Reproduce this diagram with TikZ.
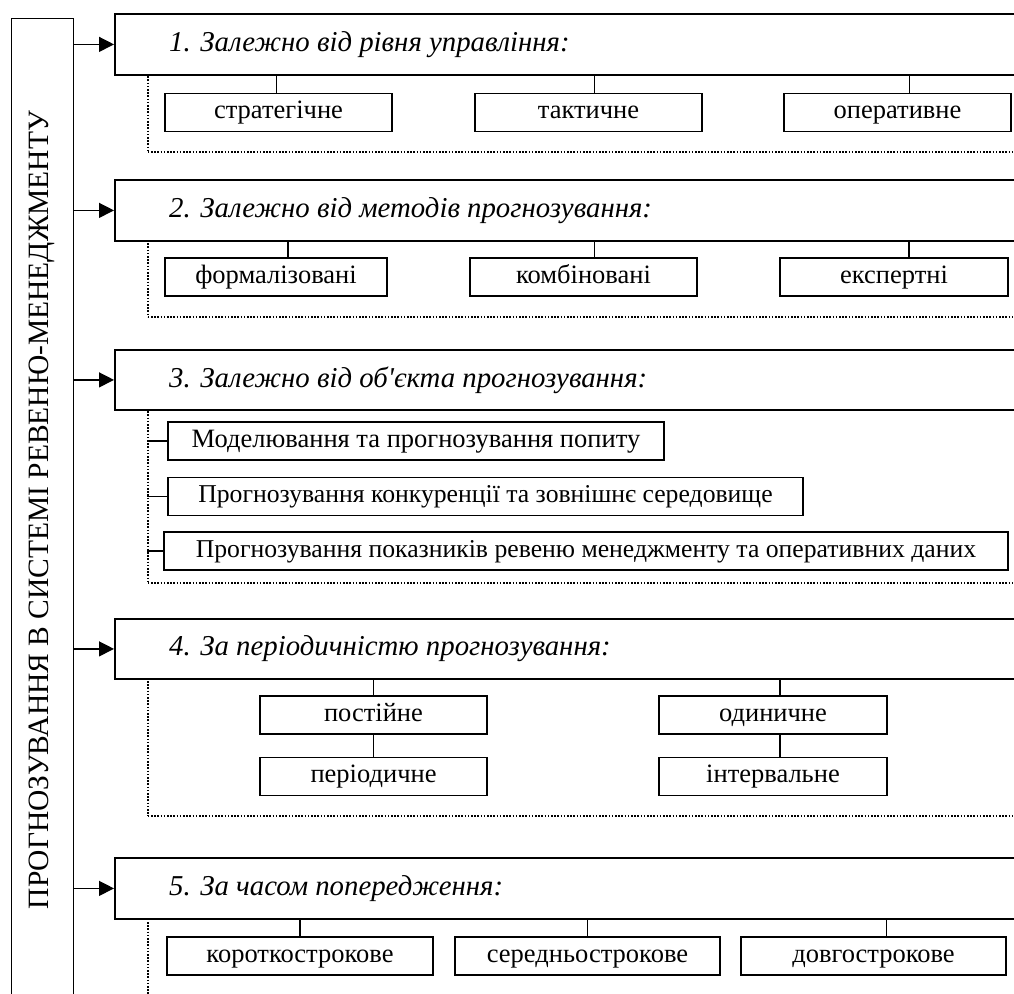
\documentclass[tikz,border=0pt]{standalone}
\usepackage{fontspec}
\setmainfont{Liberation Serif}[Ligatures=TeXOff]
\usetikzlibrary{arrows.meta,calc}
\begin{document}
\begin{tikzpicture}[x=1pt,y=-1pt,
  hdr/.style={draw, line width=1.8pt, rectangle, anchor=north west, minimum width=960pt, inner sep=0pt, fill=white},
  htxt/.style={anchor=west, inner sep=0pt, font=\fontsize{28.8}{33}\selectfont\itshape},
  dotbox/.style={draw, line width=1.6pt, dash pattern=on 1.6pt off 1.6pt, rectangle, anchor=north west, minimum width=940pt, inner sep=0pt},
  child/.style={draw, line width=1.3pt, rectangle, minimum height=38pt, inner sep=0pt, text height=18pt, text depth=6pt, font=\fontsize{26.5}{30}\selectfont},
  smallchild/.style={child, font=\fontsize{25.7}{30}\selectfont},
  conn/.style={line width=1.3pt},
  arr/.style={line width=1.3pt, -{Triangle[length=15pt,width=15pt]}}
]
\useasboundingbox (0,0) rectangle (1014,993);
\clip (0,0) rectangle (1014,993);

% left main box
\node[draw, line width=1.3pt, rectangle, anchor=north west, minimum width=62pt, minimum height=1000pt, inner sep=0pt] (main) at (11,18) {};
\node[rotate=90, inner sep=0pt, font=\fontsize{29.5}{33}\selectfont] (maintxt) at (42,510) {ПРОГНОЗУВАННЯ В СИСТЕМІ РЕВЕНЮ-МЕНЕДЖМЕНТУ};

% dotted containers
\node[dotbox, minimum height=77pt] (d1) at (147,74) {};
\node[dotbox, minimum height=76pt] (d2) at (147,240) {};
\node[dotbox, minimum height=173pt] (d3) at (147,409) {};
\node[dotbox, minimum height=137pt] (d4) at (147,678) {};
\node[dotbox, minimum height=120pt] (d5) at (147,918) {};

% headers
\node[hdr, minimum height=61pt] (h1) at (114,13) {};
\node[hdr, minimum height=61pt] (h2) at (114,179) {};
\node[hdr, minimum height=60pt] (h3) at (114,349) {};
\node[hdr, minimum height=60pt] (h4) at (114,618) {};
\node[hdr, minimum height=61pt] (h5) at (114,857) {};

\node[htxt] (t1) at ([xshift=55pt]h1.west) {1. Залежно від рівня управління:};
\node[htxt] (t2) at ([xshift=55pt]h2.west) {2. Залежно від методів прогнозування:};
\node[htxt] (t3) at ([xshift=55pt]h3.west) {3. Залежно від об'єкта прогнозування:};
\node[htxt] (t4) at ([xshift=55pt]h4.west) {4. За періодичністю прогнозування:};
\node[htxt] (t5) at ([xshift=55pt]h5.west) {5. За часом попередження:};

% arrows
\foreach \h in {h1,h2,h3,h4,h5}{
  \draw[arr] (main.east |- \h.west) -- (\h.west);
}

% section 1
\node[child, minimum width=227pt] (c11) at (278.5,112.5) {стратегічне};
\node[child, minimum width=227pt] (c12) at (588.5,112.5) {тактичне};
\node[child, minimum width=227pt] (c13) at (897.5,112.5) {оперативне};
\draw[conn] ([xshift=-2pt]c11.north) -- ([xshift=-2pt]c11.north |- h1.south);
\draw[conn] ([xshift=6pt]c12.north) -- ([xshift=6pt]c12.north |- h1.south);
\draw[conn] ([xshift=12pt]c13.north) -- ([xshift=12pt]c13.north |- h1.south);

% section 2
\node[child, minimum width=222pt] (c21) at (276,277) {формалізовані};
\node[child, minimum width=227pt] (c22) at (583.5,277) {комбіновані};
\node[child, minimum width=228pt] (c23) at (894,277) {експертні};
\draw[conn] ([xshift=12pt]c21.north) -- ([xshift=12pt]c21.north |- h2.south);
\draw[conn] ([xshift=11pt]c22.north) -- ([xshift=11pt]c22.north |- h2.south);
\draw[conn] ([xshift=15pt]c23.north) -- ([xshift=15pt]c23.north |- h2.south);

% section 3
\node[child, minimum width=496pt] (c31) at (416,441) {Моделювання та прогнозування попиту};
\node[smallchild, minimum width=635pt] (c32) at (485.5,496.5) {Прогнозування конкуренції та зовнішнє середовище};
\node[smallchild, minimum width=844pt] (c33) at (586,551) {Прогнозування показників ревеню менеджменту та оперативних даних};
\draw[conn] (d3.west |- c31.west) -- (c31.west);
\draw[conn] (d3.west |- c32.west) -- (c32.west);
\draw[conn] (d3.west |- c33.west) -- (c33.west);

% section 4
\node[child, minimum width=227pt] (c41) at (373.5,715) {постійне};
\node[child, minimum width=227pt] (c42) at (373.5,776.5) {періодичне};
\node[child, minimum width=228pt] (c43) at (773,715) {одиничне};
\node[child, minimum width=228pt] (c44) at (773,776.5) {інтервальне};
\draw[conn] (c41.north) -- (c41.north |- h4.south);
\draw[conn] (c41.south) -- (c42.north);
\draw[conn] ([xshift=7pt]c43.north) -- ([xshift=7pt]c43.north |- h4.south);
\draw[conn] ([xshift=7pt]c43.south) -- ([xshift=7pt]c44.north);

% section 5
\node[child, minimum width=266pt] (c51) at (300,956) {короткострокове};
\node[child, minimum width=265pt] (c52) at (587.5,956) {середньострокове};
\node[child, minimum width=265pt] (c53) at (873.5,956) {довгострокове};
\draw[conn] (c51.north) -- (c51.north |- h5.south);
\draw[conn] (c52.north) -- (c52.north |- h5.south);
\draw[conn] ([xshift=13pt]c53.north) -- ([xshift=13pt]c53.north |- h5.south);
\end{tikzpicture}
\end{document}
